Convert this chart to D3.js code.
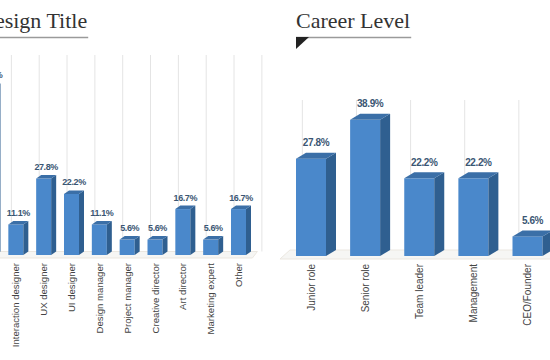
<!DOCTYPE html>
<html>
<head>
<meta charset="utf-8">
<script src="https://cdn.jsdelivr.net/npm/d3@7"></script>
<style>
  body { margin: 0; background: #fff; }
  svg { display: block; }
</style>
</head>
<body>
<div id="chart"></div>
<script>
// left chart (cut off on the left side in the reference)
const titleCats = ["Product designer", "Interaction designer", "UX designer", "UI designer", "Design manager",
  "Project manager", "Creative director", "Art director", "Marketing expert", "Other"]
const titleVals = [61.1, 11.1, 27.8, 22.2, 11.1, 5.6, 5.6, 16.7, 5.6, 16.7]

// right chart
const levelCats = ["Junior role", "Senior role", "Team leader", "Management", "CEO/Founder"]
const levelVals = [27.8, 38.9, 22.2, 22.2, 5.6]

const width = 550, height = 360

const svg = d3.select("#chart")
  .append("svg")
  .attr("width", width)
  .attr("height", height)

function heading(x, text, tri) {
  const t = svg.append("text")
    .attr("x", x)
    .attr("y", 28)
    .attr("font-family", "Liberation Serif, serif")
    .attr("font-size", 22)
    .attr("fill", "#333")
    .text(text)
  const w = t.node().getComputedTextLength()
  svg.append("line")
    .attr("x1", x).attr("x2", x + w + 1)
    .attr("y1", 37.5).attr("y2", 37.5)
    .attr("stroke", "#9a9a9a")
    .attr("stroke-width", 1.5)
  if (tri) {
    svg.append("path")
      .attr("d", `M${x},37 L${x + 13},37 L${x},49 Z`)
      .attr("fill", "#222")
  }
}

function bars3d(cats, vals, opt) {
  const x = d3.scalePoint().domain(cats).range(opt.xr)
  const y = d3.scaleLinear().domain([0, 100]).range([opt.base, opt.base - 100 * opt.perPct])
  const step = x.step()
  const g = svg.append("g")
  const w = opt.bw, dx = opt.dx, dy = opt.dy

  // floor
  const fx0 = opt.xr[0] - step / 2 - 4, fx1 = opt.xr[1] + step / 2
  g.append("path")
    .attr("d", `M${fx0},${opt.base + 3} L${fx1},${opt.base + 3} L${fx1 + dx},${opt.base - dy} L${fx0 + dx},${opt.base - dy} Z`)
    .attr("fill", "#f6f6f4")
    .attr("stroke", "#ebe7e0")
    .attr("stroke-width", 1)

  // back wall gridlines
  const gx = cats.map(c => x(c) - 0.16 * step)
  gx.push(gx[gx.length - 1] + step)
  g.selectAll(".grid")
    .data(gx)
    .enter()
    .append("line")
    .attr("x1", d => d).attr("x2", d => d)
    .attr("y1", opt.top).attr("y2", opt.base - dy)
    .attr("stroke", "#e4e4e4")
    .attr("stroke-width", 1)

  const data = cats.map((c, i) => ({ c, v: vals[i] }))
  const bar = g.selectAll(".bar")
    .data(data)
    .enter()
    .append("g")

  bar.append("rect")
    .attr("x", d => x(d.c) - w / 2)
    .attr("y", d => y(d.v))
    .attr("width", w)
    .attr("height", d => opt.base - y(d.v))
    .attr("fill", "#4a88cb")

  bar.append("path")
    .attr("d", d => {
      const x1 = x(d.c) + w / 2, yt = y(d.v)
      return `M${x1},${yt} L${x1 + dx},${yt - dy} L${x1 + dx},${opt.base - dy} L${x1},${opt.base} Z`
    })
    .attr("fill", "#2f5f90")

  bar.append("path")
    .attr("d", d => {
      const x0 = x(d.c) - w / 2, yt = y(d.v)
      return `M${x0},${yt} L${x0 + dx},${yt - dy} L${x0 + w + dx},${yt - dy} L${x0 + w},${yt} Z`
    })
    .attr("fill", "#3b6fa7")

  bar.append("text")
    .attr("x", d => x(d.c) + dx / 2)
    .attr("y", d => y(d.v) - dy - opt.lblGap)
    .attr("text-anchor", "middle")
    .attr("font-family", "Liberation Sans, Arial, sans-serif")
    .attr("font-weight", "bold")
    .attr("font-size", opt.vfs)
    .attr("letter-spacing", -0.4)
    .attr("fill", "#3a5673")
    .text(d => d.v.toFixed(1) + "%")

  // category labels
  g.selectAll(".cat")
    .data(cats)
    .enter()
    .append("text")
    .attr("transform", d => `translate(${x(d) + 3.5},${opt.base + 8}) rotate(-90)`)
    .attr("text-anchor", "end")
    .attr("font-family", "Liberation Sans, Arial, sans-serif")
    .attr("font-size", opt.cfs)
    .attr("fill", "#444")
    .text(d => d)
}

heading(-21, "Design Title", true)
heading(296, "Career Level", true)

bars3d(titleCats, titleVals, {
  xr: [-12, 238.5], base: 255, perPct: 2.75, top: 55,
  bw: 15, dx: 5, dy: 3.5, lblGap: 5, vfs: 9, cfs: 9.6
})

bars3d(levelCats, levelVals, {
  xr: [311, 527.5], base: 256, perPct: 3.5, top: 100,
  bw: 30, dx: 10, dy: 6, lblGap: 6.5, vfs: 10, cfs: 10
})
</script>
</body>
</html>
